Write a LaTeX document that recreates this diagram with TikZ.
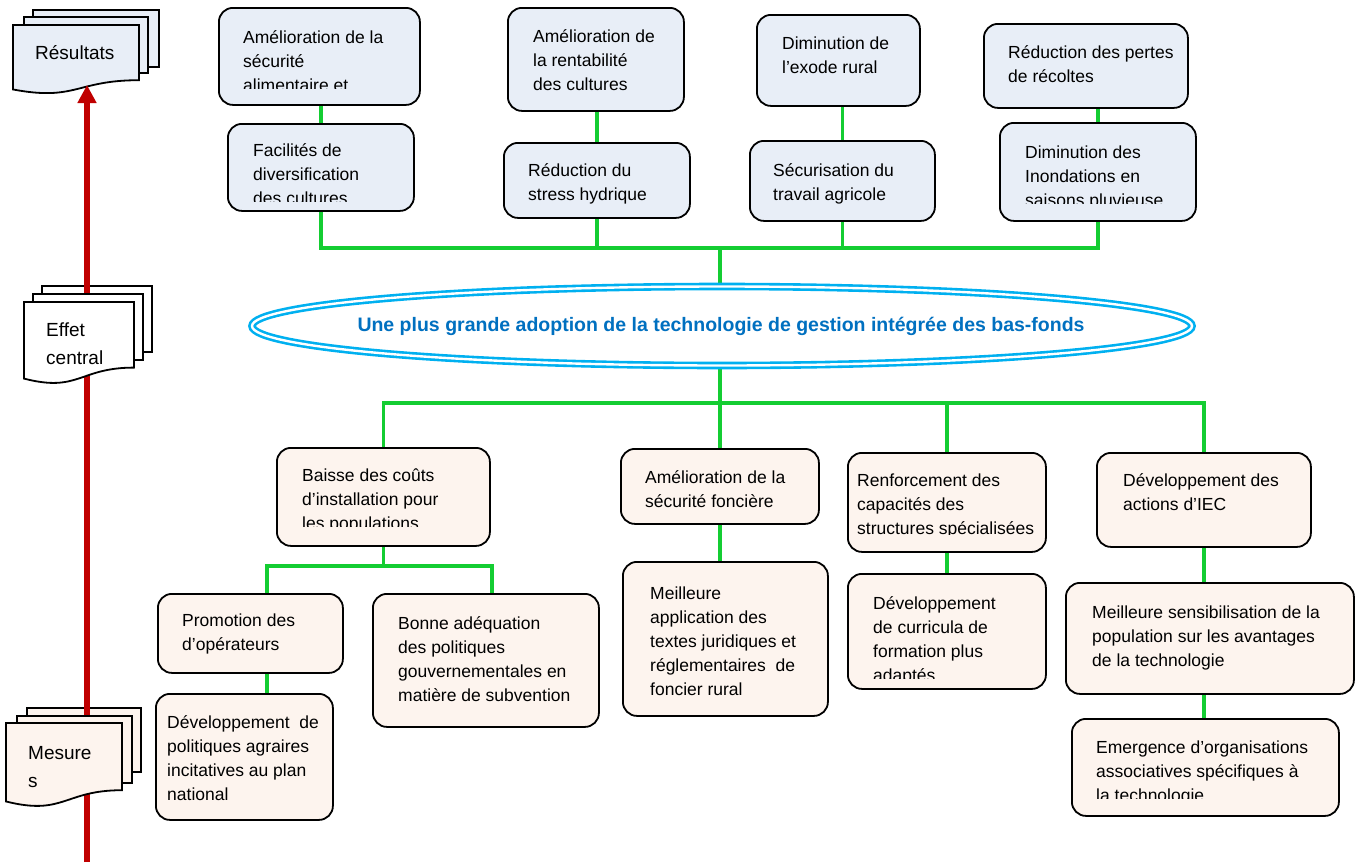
\documentclass[tikz,border=0pt]{standalone}
\usepackage{fontspec}
\setmainfont{Liberation Sans}
\usetikzlibrary{shapes.geometric,arrows.meta,calc}

\definecolor{topfill}{RGB}{232,238,247}
\definecolor{botfill}{RGB}{253,244,238}
\definecolor{linkgreen}{RGB}{20,205,50}
\definecolor{ringblue}{RGB}{0,176,240}
\definecolor{titleblue}{RGB}{0,112,192}
\definecolor{axisred}{RGB}{192,0,0}

\pgfdeclarelayer{backdrop}
\pgfdeclarelayer{wires}
\pgfsetlayers{backdrop,wires,main}

\tikzset{
  box/.style={draw=black, line width=1.8pt, rounded corners=14pt, anchor=north west, inner sep=0pt},
  topbox/.style={box, fill=topfill},
  botbox/.style={box, fill=botfill},
  boxtext/.style={anchor=north west, inner sep=0pt, align=left, font=\fontsize{17.5}{24}\selectfont},
  doctext/.style={anchor=north west, inner sep=0pt, align=left, font=\fontsize{19}{28}\selectfont},
  link/.style={draw=linkgreen, line width=3.5pt},
  axis/.style={draw=axisred, line width=6pt},
  sheet/.style={draw=black, line width=1.8pt},
}

% front sheet of a document stack: x1, y1, x2, height, fill
\newcommand{\DocFront}[5]{%
  \path[sheet, fill=#5] (#1,#2) -- (#3,#2) -- (#3,{#2+0.8*#4})
    .. controls ({(#1+#3)/2},{#2+0.8*#4}) and ({(#1+#3)/2},{#2+1.107*#4}) ..
    (#1,{#2+0.934*#4}) -- cycle;}
% sheets behind the front one: x1, y1, x2, y2, fill
\newcommand{\DocBack}[5]{\path[sheet, fill=#5] (#1,#2) rectangle (#3,#4);}

\begin{document}
\begin{tikzpicture}[x=1pt, y=-1pt]
\begin{pgfonlayer}{backdrop}
  \fill[white] (0,0) rectangle (1365,862);
\end{pgfonlayer}
\useasboundingbox (0,0) rectangle (1365,862);

% ---------- left axis: Résultats / Effet central / Mesures ----------
\DocBack{33}{10}{159}{67}{topfill}
\DocBack{24}{17}{148}{73}{topfill}
\DocFront{13}{25}{139}{69}{topfill}
\node[doctext] (res) at (35,39.2) {\strut Résultats};

\DocBack{42}{286}{152}{352}{white}
\DocBack{27}{708}{141}{772}{botfill}

\coordinate (axis-top) at (87,85);
\coordinate (axis-bot) at (87,862);
\draw[axis, -{Triangle[width=18pt,length=18pt]}] (axis-bot) -- (axis-top);

\DocBack{33}{294}{143}{360}{white}
\DocFront{24}{302}{134}{82}{white}
\node[doctext] (eff) at (46,316.2) {\strut Effet\\central};

\DocBack{17}{716}{132}{783}{botfill}
\DocFront{6}{723}{122}{84}{botfill}
\node[doctext] (mes) at (28,739.2) {\strut Mesure\\s};

% ---------- upper boxes ----------
\node[topbox, minimum width=201pt, minimum height=97pt] (b1) at (218,7) {};
\begin{scope}
  \clip (218,7) rectangle (419,88.5);
  \node[boxtext] (t1) at (243,26.5) {\strut Amélioration de la\\sécurité\\alimentaire et};
\end{scope}
\node[topbox, minimum width=186pt, minimum height=87pt] (b2) at (227,123) {};
\begin{scope}
  \clip (227,123) rectangle (413,201.5);
  \node[boxtext] (t2) at (253,139.5) {\strut Facilités de\\diversification\\des cultures};
\end{scope}
\node[topbox, minimum width=176pt, minimum height=103pt] (b3) at (507,7) {};
\node[boxtext] (t3) at (533,25.5) {\strut Amélioration de\\la rentabilité\\des cultures};
\node[topbox, minimum width=186pt, minimum height=75pt] (b4) at (503,142) {};
\node[boxtext] (t4) at (528,159.5) {\strut Réduction du\\stress hydrique};
\node[topbox, minimum width=163pt, minimum height=91pt] (b5) at (756,14) {};
\node[boxtext] (t5) at (782,32.5) {\strut Diminution de\\l’exode rural};
\node[topbox, minimum width=185pt, minimum height=80pt] (b6) at (749,140) {};
\node[boxtext] (t6) at (773,159.5) {\strut Sécurisation du\\travail agricole};
\node[topbox, minimum width=204pt, minimum height=84pt] (b7) at (983,23) {};
\node[boxtext] (t7) at (1008,41.5) {\strut Réduction des pertes\\de récoltes};
\node[topbox, minimum width=196pt, minimum height=98pt] (b8) at (999,122) {};
\begin{scope}
  \clip (999,122) rectangle (1195,203.5);
  \node[boxtext] (t8) at (1025,141.5) {\strut Diminution des\\Inondations en\\saisons pluvieuse};
\end{scope}

% ---------- central effect ----------
\node[ellipse, draw=ringblue, double=white, double distance=2.4pt, line width=2.6pt,
      minimum width=940pt, minimum height=79pt, inner sep=0pt] (ell) at (722,326) {};
\node[text=titleblue, inner sep=0pt, font=\bfseries\fontsize{19.5}{23}\selectfont]
  (title) at (721,326)
  {Une plus grande adoption de la technologie de gestion intégrée des bas-fonds};

% ---------- lower boxes ----------
\node[botbox, minimum width=213pt, minimum height=98pt] (c1) at (276,447) {};
\begin{scope}
  \clip (276,447) rectangle (489,526.5);
  \node[boxtext] (u1) at (302,464.5) {\strut Baisse des coûts\\d’installation pour\\les populations};
\end{scope}
\node[botbox, minimum width=198pt, minimum height=75pt] (c2) at (620,448) {};
\node[boxtext] (u2) at (645,466.5) {\strut Amélioration de la\\sécurité foncière};
\node[botbox, minimum width=198pt, minimum height=99pt] (c3) at (847,452) {};
\begin{scope}
  \clip (847,452) rectangle (1045,534);
  \node[boxtext] (u3) at (857,469.5) {\strut Renforcement des\\capacités des\\structures spécialisées};
\end{scope}
\node[botbox, minimum width=214pt, minimum height=94pt] (c4) at (1096,452) {};
\node[boxtext] (u4) at (1123,469.5) {\strut Développement des\\actions d’IEC};

\node[botbox, minimum width=185pt, minimum height=79pt] (d1) at (157,593) {};
\node[boxtext] (v1) at (182,609.5) {\strut Promotion des\\d’opérateurs};
\node[botbox, minimum width=226pt, minimum height=133pt] (d2) at (372,593) {};
\node[boxtext] (v2) at (398,612.5) {\strut Bonne adéquation\\des politiques\\gouvernementales en\\matière de subvention};
\node[botbox, minimum width=177pt, minimum height=126pt] (e1) at (155,693) {};
\node[boxtext] (w1) at (167,711.5) {\strut Développement~ de\\politiques agraires\\incitatives au plan\\national};
\node[botbox, minimum width=205pt, minimum height=154pt] (d3) at (622,561) {};
\node[boxtext] (v3) at (650,582.5) {\strut Meilleure\\application des\\textes juridiques et\\réglementaires~ de\\foncier rural};
\node[botbox, minimum width=198pt, minimum height=115pt] (d4) at (847,573) {};
\begin{scope}
  \clip (847,573) rectangle (1045,678.5);
  \node[boxtext] (v4) at (873,592.5) {\strut Développement\\de curricula de\\formation plus\\adaptés};
\end{scope}
\node[botbox, minimum width=288pt, minimum height=111pt] (d5) at (1065,582) {};
\node[boxtext] (v5) at (1092,601.5) {\strut Meilleure sensibilisation de la\\population sur les avantages\\de la technologie};
\node[botbox, minimum width=267pt, minimum height=97pt] (e5) at (1071,718) {};
\begin{scope}
  \clip (1071,718) rectangle (1338,798.5);
  \node[boxtext] (w5) at (1096,736.5) {\strut Emergence d’organisations\\associatives spécifiques à\\la technologie};
\end{scope}

% ---------- green connectors ----------
\begin{pgfonlayer}{wires}
  \coordinate (thub) at (720,248);
  \draw[link] (b2.north) -- (b2.north |- b1.south);
  \draw[link] (b4.north) -- (b4.north |- b3.south);
  \draw[link] (b6.north) -- (b6.north |- b5.south);
  \draw[link] (b8.north) -- (b8.north |- b7.south);
  \draw[link] (b2.south) |- (thub) -| (b8.south);
  \draw[link] (b4.south) -- (b4.south |- thub);
  \draw[link] (b6.south) -- (b6.south |- thub);
  \draw[link] (thub) -- (thub |- ell.north);

  \coordinate (bhub) at (720,403);
  \draw[link] (bhub |- ell.south) -- (bhub);
  \draw[link] (c1.north) |- (bhub) -| (c4.north);
  \draw[link] (c2.north) -- (c2.north |- bhub);
  \draw[link] (c3.north) -- (c3.north |- bhub);

  \coordinate (cj) at ($(c1.south)+(0,21)$);
  \coordinate (dl) at (267,566);
  \coordinate (dr) at (492,566);
  \draw[link] (c1.south) -- (cj);
  \draw[link] (dl |- d1.north) -- (dl) -- (dr) -- (dr |- d2.north);
  \draw[link] (dl |- d1.south) -- (dl |- e1.north);
  \draw[link] (c2.south) -- (c2.south |- d3.north);
  \draw[link] (c3.south) -- (c3.south |- d4.north);
  \draw[link] (c4.south) -- (c4.south |- d5.north);
  \draw[link] (c4.south |- d5.south) -- (c4.south |- e5.north);
\end{pgfonlayer}
\end{tikzpicture}
\end{document}
